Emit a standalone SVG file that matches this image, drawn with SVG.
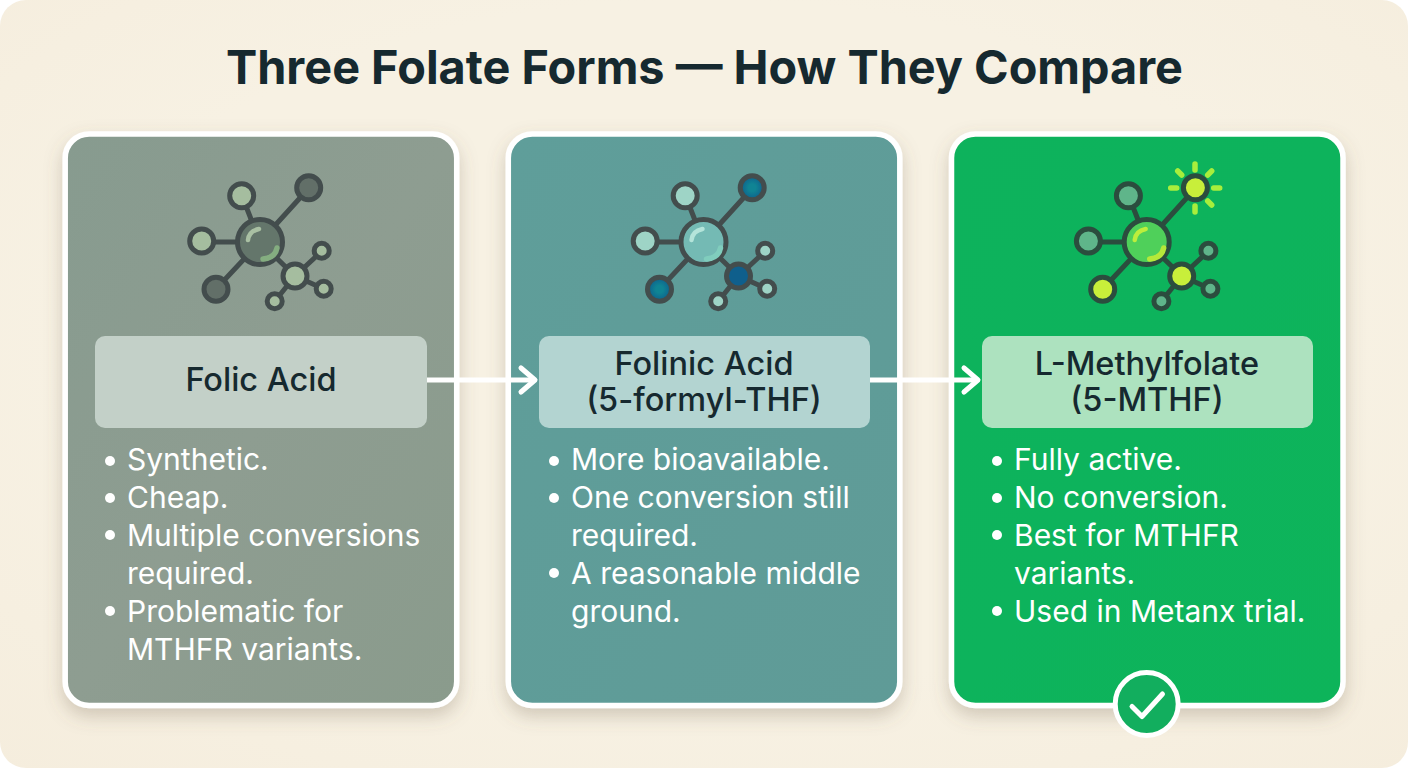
<svg xmlns="http://www.w3.org/2000/svg" width="1408" height="768" viewBox="0 0 1408 768">
<defs>
<style>
text{font-family:Inter,"Liberation Sans",sans-serif}
.title{font-size:46.8px;font-weight:700;fill:#16292f;text-anchor:middle}
.label{font-size:32.500px;font-weight:500;fill:#16292f;text-anchor:middle}
.b{font-size:30px;font-weight:400;fill:#fff}
.dot{fill:#fff}
.card{stroke:#fff;stroke-width:5.500}
.conn{stroke:#fff;stroke-width:5;fill:none;stroke-linecap:round;stroke-linejoin:round}
.bond{stroke:#434d4d;stroke-width:5;fill:none}
.st{stroke:#434d4d;stroke-width:5}
.hl{fill:none;stroke-linecap:round;stroke-width:4.500}
.ray{stroke:#a8ee3c;stroke-width:5.500;stroke-linecap:round;fill:none}
</style>
<radialGradient id="bg" cx="50%" cy="45%" r="75%"><stop offset="0.6" stop-color="#f7f1e3"/><stop offset="1" stop-color="#f5eddd"/></radialGradient>
<linearGradient id="c1" x1="0" y1="0" x2="1" y2="1"><stop offset="0" stop-color="#879b8f"/><stop offset="0.5" stop-color="#8e9d91"/><stop offset="1" stop-color="#8a9b8c"/></linearGradient>
<linearGradient id="c2" x1="0" y1="0" x2="1" y2="1"><stop offset="0" stop-color="#5f9e9a"/><stop offset="1" stop-color="#5f9b97"/></linearGradient>
<linearGradient id="c3" x1="0" y1="0" x2="1" y2="1"><stop offset="0" stop-color="#10b25c"/><stop offset="1" stop-color="#0eb45a"/></linearGradient>
<radialGradient id="blue"><stop offset="0.3" stop-color="#0f8494"/><stop offset="1" stop-color="#0e5f8c"/></radialGradient>
<filter id="sh" x="-10%" y="-10%" width="120%" height="120%"><feDropShadow dx="0" dy="8" stdDeviation="9" flood-color="#6e5f48" flood-opacity="0.28"/></filter>
<path id="bonds" d="M260 242L242 196M260 242L309 188M260 242H202M260 242L216 289M260 242L295 276M295 276L322 251M295 276L324 289M295 276L275 301"/>
</defs>
<rect width="1408" height="768" fill="#fff"/>
<rect width="1408" height="768" rx="26" fill="url(#bg)"/>
<text class="title" x="704.5" y="84">Three Folate Forms — How They Compare</text>

<g id="card-folic-acid">
<rect class="card" x="65.200" y="134" width="391.500" height="571.500" rx="24" fill="url(#c1)" filter="url(#sh)"/>
<g id="icon-folic">
<use href="#bonds" class="bond"/>
<g class="st">
<circle cx="241.700" cy="195.700" r="12" fill="#a5bd9f"/>
<circle cx="308.700" cy="187.700" r="12" fill="#626f68"/>
<circle cx="201.700" cy="241" r="12" fill="#a5bd9f"/>
<circle cx="216" cy="289.300" r="12" fill="#626f68"/>
<circle cx="295" cy="276" r="12" fill="#a5bd9f"/>
<circle cx="321.700" cy="250.700" r="7.500" fill="#a5bd9f"/>
<circle cx="323.700" cy="288.700" r="7.500" fill="#a5bd9f"/>
<circle cx="274.700" cy="301.300" r="7.500" fill="#a5bd9f"/>
<circle cx="260" cy="242" r="22.500" fill="#64766b"/>
</g>
<path class="hl" d="M248 240Q249 231 259 229" stroke="#a9c0a3"/>
<path class="hl" d="M263 259Q275 258 277 248" stroke="#84ad80" style="stroke-width:5.500"/>
</g>
<rect x="95" y="336" width="332" height="92" rx="10" fill="#c3d0c8"/>
<text class="label" x="261" y="391">Folic Acid</text>
<circle class="dot" cx="110" cy="461" r="5"/><text class="b" x="127" y="470">Synthetic.</text>
<circle class="dot" cx="110" cy="498" r="5"/><text class="b" x="127" y="508">Cheap.</text>
<circle class="dot" cx="110" cy="535" r="5"/><text class="b" x="127" y="546">Multiple conversions</text>
<text class="b" x="127" y="584">required.</text>
<circle class="dot" cx="110" cy="611" r="5"/><text class="b" x="127" y="622">Problematic for</text>
<text class="b" x="127" y="660">MTHFR variants.</text>
</g>

<g id="card-folinic-acid">
<rect class="card" x="508.300" y="134" width="391.500" height="571.500" rx="24" fill="url(#c2)" filter="url(#sh)"/>
<g id="icon-folinic" transform="translate(443.500 0)">
<use href="#bonds" class="bond"/>
<g class="st">
<circle cx="241.700" cy="195.700" r="12" fill="#9ed4c6"/>
<circle cx="308.700" cy="187.700" r="12" fill="url(#blue)"/>
<circle cx="201.700" cy="241" r="12" fill="#9ed4c6"/>
<circle cx="216" cy="289.300" r="12" fill="url(#blue)"/>
<circle cx="295" cy="276" r="12" fill="#0f5f8c"/>
<circle cx="321.700" cy="250.700" r="7.500" fill="#9ed4c6"/>
<circle cx="323.700" cy="288.700" r="7.500" fill="#9ed4c6"/>
<circle cx="274.700" cy="301.300" r="7.500" fill="#9ed4c6"/>
<circle cx="260" cy="242" r="22.500" fill="#74bab4"/>
</g>
<path class="hl" d="M248 240Q249 231 259 229" stroke="#b4e4da"/>
<path class="hl" d="M263 259Q275 258 277 248" stroke="#80cdbd" style="stroke-width:5.500"/>
</g>
<rect x="539" y="336" width="331" height="92" rx="10" fill="#b3d4d1"/>
<text class="label" x="704" y="375">Folinic Acid</text>
<text class="label" x="704" y="411">(5-formyl-THF)</text>
<circle class="dot" cx="554" cy="461" r="5"/><text class="b" x="571" y="470">More bioavailable.</text>
<circle class="dot" cx="554" cy="498" r="5"/><text class="b" x="571" y="508">One conversion still</text>
<text class="b" x="571" y="546">required.</text>
<circle class="dot" cx="554" cy="573" r="5"/><text class="b" x="571" y="584">A reasonable middle</text>
<text class="b" x="571" y="622">ground.</text>
</g>

<g id="card-l-methylfolate">
<rect class="card" x="951.500" y="134" width="391.500" height="571.500" rx="24" fill="url(#c3)" filter="url(#sh)"/>
<g id="icon-methylfolate" transform="translate(886.700 0)">
<use href="#bonds" class="bond" style="stroke:#2b4d3e"/>
<g class="st" style="stroke:#2b4d3e">
<circle cx="241.700" cy="195.700" r="12" fill="#5fb58a"/>
<circle cx="308.700" cy="187.700" r="12" fill="#c8ef3a"/>
<circle cx="201.700" cy="241" r="12" fill="#5fb58a"/>
<circle cx="216" cy="289.300" r="12" fill="#c8ef3a"/>
<circle cx="295" cy="276" r="12" fill="#c8ef3a"/>
<circle cx="321.700" cy="250.700" r="7.500" fill="#5fb58a"/>
<circle cx="323.700" cy="288.700" r="7.500" fill="#5fb58a"/>
<circle cx="274.700" cy="301.300" r="7.500" fill="#5fb58a"/>
<circle cx="260" cy="242" r="22.500" fill="#4fd05a"/>
</g>
<path class="hl" d="M248 240Q249 231 259 229" stroke="#bdee3c"/>
<path class="hl" d="M263 259Q275 258 277 248" stroke="#b5e83a" style="stroke-width:5.500"/>
<path class="ray" d="M308.300 164V170M308.300 206V212M284 188H290M327 188H333M291 171L295 175M321 175L325 171M321 201L325 205"/>
</g>
</g>
<rect x="982" y="336" width="331" height="92" rx="10" fill="#ade2bf"/>
<text class="label" x="1147" y="375">L-Methylfolate</text>
<text class="label" x="1147" y="411">(5-MTHF)</text>
<circle class="dot" cx="997" cy="461" r="5"/><text class="b" x="1014" y="470">Fully active.</text>
<circle class="dot" cx="997" cy="498" r="5"/><text class="b" x="1014" y="508">No conversion.</text>
<circle class="dot" cx="997" cy="535" r="5"/><text class="b" x="1014" y="546">Best for MTHFR</text>
<text class="b" x="1014" y="584">variants.</text>
<circle class="dot" cx="997" cy="611" r="5"/><text class="b" x="1014" y="622">Used in Metanx trial.</text>
<g id="check-badge">
<circle cx="1146.700" cy="704" r="31.500" fill="#12ae5e" stroke="#fff" stroke-width="5"/>
<path d="M1132 706.500L1142 716.500L1162.500 694" fill="none" stroke="#fff" stroke-width="5" stroke-linecap="round" stroke-linejoin="round"/>
</g>

<g id="connectors">
<path class="conn" style="stroke-linecap:butt" d="M427 380H535"/>
<path class="conn" d="M521 368L535 380L521 392"/>
<path class="conn" style="stroke-linecap:butt" d="M870 380H978"/>
<path class="conn" d="M964 368L978 380L964 392"/>
</g>
</svg>
